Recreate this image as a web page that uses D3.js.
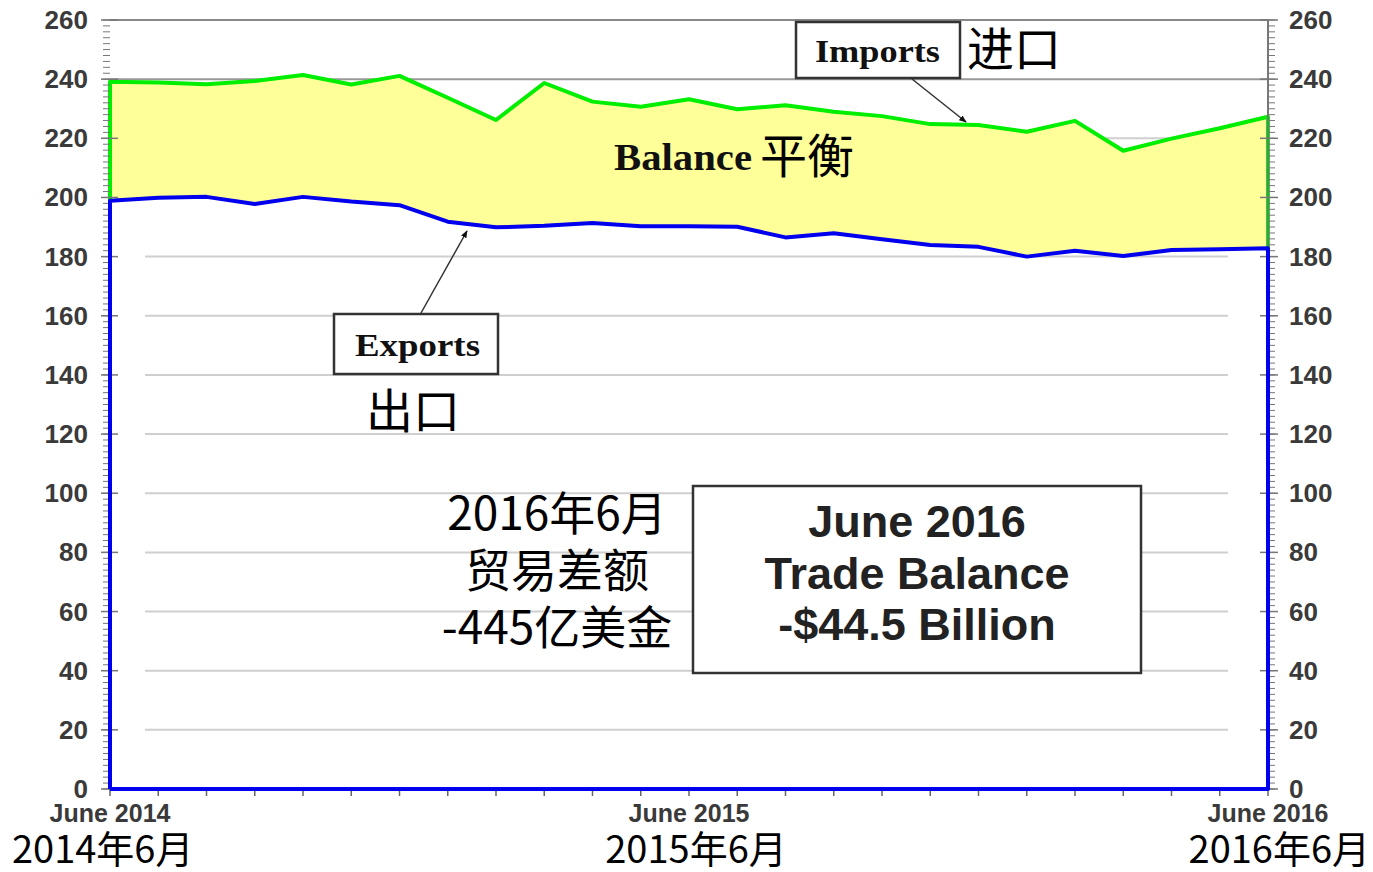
<!DOCTYPE html>
<html>
<head>
<meta charset="utf-8">
<script src="https://cdn.jsdelivr.net/npm/d3@7"></script>
<style>
  html, body { margin: 0; padding: 0; background: #fff; }
  svg { display: block; }
</style>
</head>
<body>
<svg id="chart" width="1373" height="872"></svg>
<script>
// monthly values, June 2014 .. June 2016 (billions of dollars)
const months = d3.range(0, 25);
const importsData = [239.1, 238.9, 238.3, 239.4, 241.4, 238.2, 241.1, 233.7, 226.2, 238.7, 232.4, 230.7, 233.2,
                     229.8, 231.2, 229.0, 227.5, 224.8, 224.5, 222.2, 225.9, 215.8, 219.9, 223.4, 227.3];
const exportsData = [198.9, 199.9, 200.2, 197.8, 200.2, 198.6, 197.4, 191.8, 189.9, 190.4, 191.4, 190.3, 190.3,
                     190.1, 186.5, 187.9, 185.9, 183.9, 183.3, 180.0, 182.0, 180.2, 182.2, 182.5, 182.8];
const yTicks = d3.range(0, 261, 20);
const xLabels = [{m: 0, en: "June 2014", zh: "2014年6月"},
                 {m: 12, en: "June 2015", zh: "2015年6月"},
                 {m: 24, en: "June 2016", zh: "2016年6月"}];

const svg = d3.select("#chart");
const plotLeft = 110, plotRight = 1268, plotTop = 20, plotBottom = 789;
const sans = "Liberation Sans, Arial, sans-serif";
const serif = "Liberation Serif, Times New Roman, serif";
const cjk = "Noto Sans CJK SC, sans-serif";

const x = d3.scaleLinear().domain([0, 24]).range([plotLeft, plotRight]);
const y = d3.scaleLinear().domain([0, 260]).range([plotBottom, plotTop]);

const defs = svg.append("defs");
defs.append("marker")
    .attr("id", "arrow")
    .attr("viewBox", "0 0 10 10")
    .attr("refX", 9).attr("refY", 5)
    .attr("markerWidth", 5).attr("markerHeight", 5)
    .attr("orient", "auto")
  .append("path")
    .attr("d", "M0,1 L10,5 L0,9 Z")
    .attr("fill", "#111");

// grid lines
const grid = svg.append("g").attr("id", "grid");
grid.selectAll("line")
    .data(yTicks.filter(d => d > 0 && d < 260))
    .enter().append("line")
    .attr("x1", d => d == 240 ? plotLeft : 145)
    .attr("x2", d => d == 240 ? plotRight : 1228)
    .attr("y1", d => y(d)).attr("y2", d => y(d))
    .attr("stroke", d => d == 240 ? "#999" : "#cfcfcf")
    .attr("stroke-width", 2);

svg.append("line")
    .attr("x1", plotLeft).attr("x2", plotRight)
    .attr("y1", y(260)).attr("y2", y(260))
    .attr("stroke", "#888").attr("stroke-width", 2);

// balance band
const band = d3.area()
    .x(d => x(d))
    .y0(d => y(exportsData[d]))
    .y1(d => y(importsData[d]));
svg.append("path")
    .datum(months)
    .attr("d", band)
    .attr("fill", "#ffff99");

// imports outline
const green = [[0, exportsData[0]]].concat(months.map(d => [d, importsData[d]]), [[24, exportsData[24]]]);
svg.append("path")
    .datum(green)
    .attr("d", d3.line().x(d => x(d[0])).y(d => y(d[1])))
    .attr("fill", "none")
    .attr("stroke", "#00ee00")
    .attr("stroke-width", 4)
    .attr("stroke-linejoin", "round");

// right axis
const rightAxis = svg.append("g").attr("id", "right-axis");
rightAxis.append("line")
    .attr("x1", plotRight).attr("x2", plotRight)
    .attr("y1", y(260)).attr("y2", y(exportsData[24]))
    .attr("stroke", "#777").attr("stroke-width", 2);
rightAxis.selectAll(".minor")
    .data(d3.range(0, 261, 2))
    .enter().append("line")
    .attr("x1", plotRight).attr("x2", plotRight + 7)
    .attr("y1", d => y(d)).attr("y2", d => y(d))
    .attr("stroke", "#777").attr("stroke-width", 1);
rightAxis.selectAll(".major")
    .data(yTicks)
    .enter().append("line")
    .attr("x1", plotRight - 8).attr("x2", plotRight + 10)
    .attr("y1", d => y(d)).attr("y2", d => y(d))
    .attr("stroke", "#777").attr("stroke-width", 1.5);
rightAxis.selectAll("text")
    .data(yTicks)
    .enter().append("text")
    .attr("x", 1289)
    .attr("y", d => y(d) + 9)
    .attr("font-family", sans)
    .attr("font-weight", "bold")
    .attr("font-size", 26)
    .attr("fill", "#3a3a3a")
    .text(d => d);

// left axis
const leftAxis = svg.append("g").attr("id", "left-axis");
leftAxis.selectAll(".minor")
    .data(d3.range(0, 261, 2))
    .enter().append("line")
    .attr("x1", plotLeft - 7).attr("x2", plotLeft)
    .attr("y1", d => y(d)).attr("y2", d => y(d))
    .attr("stroke", "#777").attr("stroke-width", 1);
leftAxis.selectAll(".major")
    .data(yTicks)
    .enter().append("line")
    .attr("x1", plotLeft - 9).attr("x2", plotLeft + 8)
    .attr("y1", d => y(d)).attr("y2", d => y(d))
    .attr("stroke", "#777").attr("stroke-width", 1.5);
leftAxis.selectAll("text")
    .data(yTicks)
    .enter().append("text")
    .attr("x", 88)
    .attr("y", d => y(d) + 9)
    .attr("text-anchor", "end")
    .attr("font-family", sans)
    .attr("font-weight", "bold")
    .attr("font-size", 26)
    .attr("fill", "#3a3a3a")
    .text(d => d);

// x axis ticks and labels
const xAxis = svg.append("g").attr("id", "x-axis");
xAxis.selectAll("line")
    .data(months)
    .enter().append("line")
    .attr("x1", d => x(d)).attr("x2", d => x(d))
    .attr("y1", plotBottom).attr("y2", plotBottom + 7)
    .attr("stroke", "#666").attr("stroke-width", 1.5);
xAxis.selectAll(".en")
    .data(xLabels)
    .enter().append("text")
    .attr("class", "en")
    .attr("x", d => x(d.m))
    .attr("y", 822)
    .attr("text-anchor", "middle")
    .attr("font-family", sans)
    .attr("font-weight", "bold")
    .attr("font-size", 25)
    .attr("fill", "#3a3a3a")
    .text(d => d.en);
const zhAnchor = ["start", "middle", "end"];
const zhX = [12, x(12) + 7, 1370];
xAxis.selectAll(".zh")
    .data(xLabels)
    .enter().append("text")
    .attr("class", "zh")
    .attr("x", (d, i) => zhX[i])
    .attr("y", 863)
    .attr("text-anchor", (d, i) => zhAnchor[i])
    .attr("font-family", cjk)
    .attr("font-size", 38)
    .attr("fill", "#000")
    .text(d => d.zh);

// exports outline (down to zero and along the bottom)
const blue = [[0, 0]].concat(months.map(d => [d, exportsData[d]]), [[24, 0]], [[0, 0]]);
svg.append("path")
    .datum(blue)
    .attr("d", d3.line().x(d => x(d[0])).y(d => y(d[1])))
    .attr("fill", "none")
    .attr("stroke", "#0000ee")
    .attr("stroke-width", 4)
    .attr("stroke-linejoin", "round");

// labels
svg.append("rect")
    .attr("x", 796).attr("y", 22).attr("width", 164).attr("height", 56)
    .attr("fill", "#fff").attr("stroke", "#333").attr("stroke-width", 2.5);
svg.append("text")
    .attr("x", 815).attr("y", 62)
    .attr("textLength", 125).attr("lengthAdjust", "spacingAndGlyphs")
    .attr("font-family", serif).attr("font-weight", "bold").attr("font-size", 31)
    .attr("fill", "#111")
    .text("Imports");
svg.append("text")
    .attr("x", 967).attr("y", 66)
    .attr("font-family", cjk).attr("font-size", 47)
    .attr("fill", "#000")
    .text("进口");
svg.append("line")
    .attr("x1", 912).attr("y1", 79).attr("x2", 966).attr("y2", 122)
    .attr("stroke", "#333").attr("stroke-width", 1.5)
    .attr("marker-end", "url(#arrow)");

svg.append("text")
    .attr("x", 614).attr("y", 170)
    .attr("textLength", 138).attr("lengthAdjust", "spacingAndGlyphs")
    .attr("font-family", serif).attr("font-weight", "bold").attr("font-size", 37)
    .attr("fill", "#111")
    .text("Balance");
svg.append("text")
    .attr("x", 760).attr("y", 173)
    .attr("font-family", cjk).attr("font-size", 47)
    .attr("fill", "#000")
    .text("平衡");

svg.append("rect")
    .attr("x", 334).attr("y", 314).attr("width", 164).attr("height", 60)
    .attr("fill", "#fff").attr("stroke", "#333").attr("stroke-width", 2.5);
svg.append("text")
    .attr("x", 355).attr("y", 356)
    .attr("textLength", 125).attr("lengthAdjust", "spacingAndGlyphs")
    .attr("font-family", serif).attr("font-weight", "bold").attr("font-size", 31)
    .attr("fill", "#111")
    .text("Exports");
svg.append("line")
    .attr("x1", 421).attr("y1", 313).attr("x2", 467).attr("y2", 231)
    .attr("stroke", "#333").attr("stroke-width", 1.5)
    .attr("marker-end", "url(#arrow)");
svg.append("text")
    .attr("x", 366).attr("y", 428)
    .attr("font-family", cjk).attr("font-size", 47)
    .attr("fill", "#000")
    .text("出口");

// summary (Chinese)
const zhLines = ["2016年6月", "贸易差额", "-445亿美金"];
svg.append("g").selectAll("text")
    .data(zhLines)
    .enter().append("text")
    .attr("x", 557)
    .attr("y", (d, i) => 530 + i * 57)
    .attr("text-anchor", "middle")
    .attr("font-family", cjk).attr("font-size", 46)
    .attr("fill", "#000")
    .text(d => d);

// summary box
svg.append("rect")
    .attr("x", 693).attr("y", 486).attr("width", 448).attr("height", 187)
    .attr("fill", "#fff").attr("stroke", "#333").attr("stroke-width", 2.5);
const boxLines = ["June 2016", "Trade Balance", "-$44.5 Billion"];
svg.append("g").selectAll("text")
    .data(boxLines)
    .enter().append("text")
    .attr("x", 917)
    .attr("y", (d, i) => 537 + i * 51.5)
    .attr("text-anchor", "middle")
    .attr("font-family", sans)
    .attr("font-weight", "bold").attr("font-size", 45)
    .attr("fill", "#222")
    .text(d => d);
</script>
</body>
</html>
